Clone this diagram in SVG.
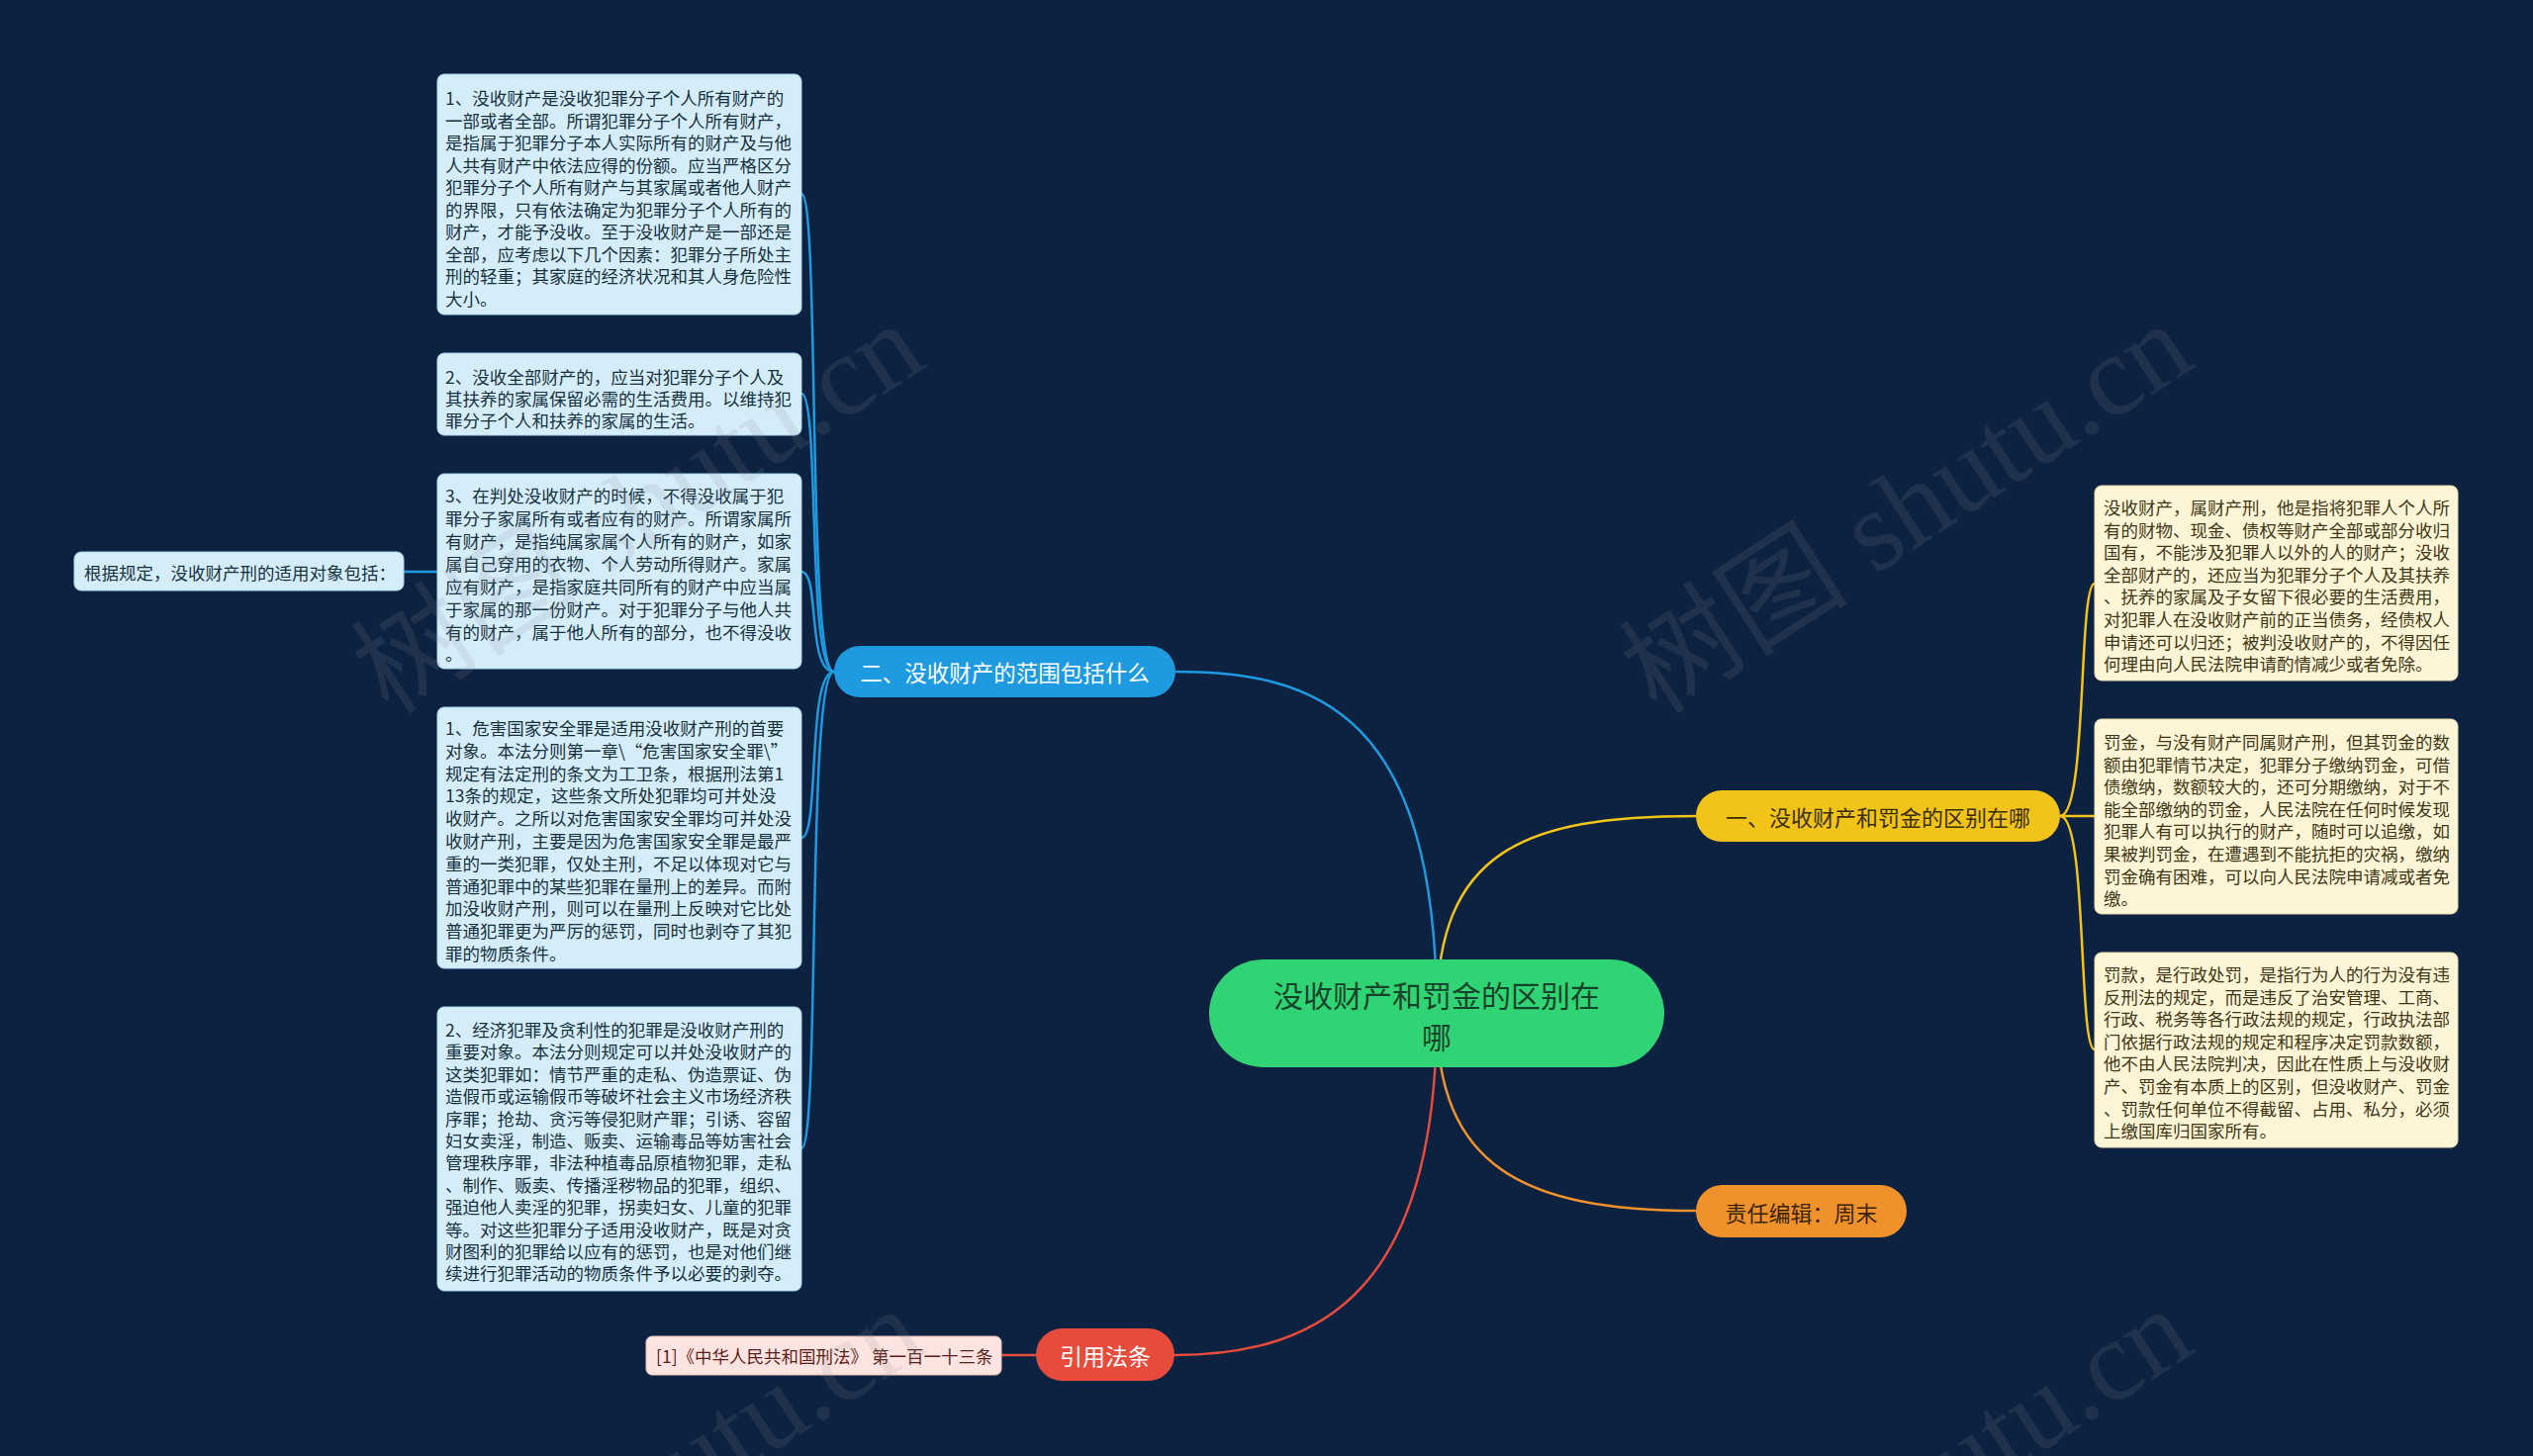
<svg xmlns="http://www.w3.org/2000/svg" width="2560" height="1472" viewBox="0 0 2560 1472">
<style>
text{font-family:"Noto Sans CJK SC","Noto Sans",sans-serif;}
.lb{fill:#d5edf9;stroke:#a9d6ef;stroke-width:1}
.rb{fill:#fdf5d5;stroke:#e8dcaa;stroke-width:1}
.lt{font-size:17.5px;fill:#17323f;dominant-baseline:central}
.rt{font-size:17.5px;fill:#3e3818;dominant-baseline:central}
.c{fill:none;stroke-width:2.5}
.wm{font-size:116px;fill:#8a8f99;opacity:0.15;font-family:"Liberation Serif","Noto Sans CJK SC",serif}
</style>
<rect width="2560" height="1472" fill="#0d2140"/>
<g id="connectors">
<path class="c" stroke="#1e9be0" d="M1452,1025 C1452,720 1330,679 1188,679"/>
<path class="c" stroke="#f2c318" d="M1452,1025 C1452,860 1540,825 1714,825"/>
<path class="c" stroke="#f0922c" d="M1452,1025 C1452,1180 1540,1224 1714,1224"/>
<path class="c" stroke="#e64b3b" d="M1452,1025 C1452,1300 1340,1370 1187,1370"/>
<path class="c" stroke="#1e9be0" d="M843,679 C815,679 829,196 810,196"/>
<path class="c" stroke="#1e9be0" d="M843,679 C815,679 829,398 810,398"/>
<path class="c" stroke="#1e9be0" d="M843,679 C815,679 829,578 810,578"/>
<path class="c" stroke="#1e9be0" d="M843,679 C815,679 829,847 810,847"/>
<path class="c" stroke="#1e9be0" d="M843,679 C815,679 829,1161 810,1161"/>
<path class="c" stroke="#1e9be0" d="M442,578 L408,578"/>
<path class="c" stroke="#f2c318" d="M2082,825 C2110,825 2100,590 2117,590"/>
<path class="c" stroke="#f2c318" d="M2082,825 L2117,825"/>
<path class="c" stroke="#f2c318" d="M2082,825 C2110,825 2100,1061 2117,1061"/>
<path class="c" stroke="#e64b3b" d="M1047,1370 L1012,1370"/>
</g>

<g id="center">
<rect x="1222" y="970" width="460" height="109" rx="54.5" fill="#31d474"/>
<text x="1452" y="1005" font-size="30" fill="#15432a" text-anchor="middle" dominant-baseline="central">没收财产和罚金的区别在</text>
<text x="1452" y="1047" font-size="30" fill="#15432a" text-anchor="middle" dominant-baseline="central">哪</text>
</g>

<g id="branch-blue">
<rect x="843" y="653" width="345" height="52" rx="26" fill="#1e9be0"/>
<text x="1015.5" y="679" font-size="22.5" fill="#ffffff" text-anchor="middle" dominant-baseline="central">二、没收财产的范围包括什么</text>
</g>

<g id="box1">
<rect class="lb" x="442" y="75" width="368" height="243" rx="7"/>
<text class="lt" x="450"><tspan x="450" y="98">1、没收财产是没收犯罪分子个人所有财产的</tspan><tspan x="450" y="120.5">一部或者全部。所谓犯罪分子个人所有财产，</tspan><tspan x="450" y="143">是指属于犯罪分子本人实际所有的财产及与他</tspan><tspan x="450" y="165.5">人共有财产中依法应得的份额。应当严格区分</tspan><tspan x="450" y="188">犯罪分子个人所有财产与其家属或者他人财产</tspan><tspan x="450" y="210.5">的界限，只有依法确定为犯罪分子个人所有的</tspan><tspan x="450" y="233">财产，才能予没收。至于没收财产是一部还是</tspan><tspan x="450" y="255.5">全部，应考虑以下几个因素：犯罪分子所处主</tspan><tspan x="450" y="278">刑的轻重；其家庭的经济状况和其人身危险性</tspan><tspan x="450" y="300.5">大小。</tspan></text>
</g>

<g id="box2">
<rect class="lb" x="442" y="357" width="368" height="83" rx="7"/>
<text class="lt"><tspan x="450" y="380">2、没收全部财产的，应当对犯罪分子个人及</tspan><tspan x="450" y="402">其扶养的家属保留必需的生活费用。以维持犯</tspan><tspan x="450" y="424">罪分子个人和扶养的家属的生活。</tspan></text>
</g>

<g id="box3">
<rect class="lb" x="442" y="479" width="368" height="197" rx="7"/>
<text class="lt"><tspan x="450" y="500">3、在判处没收财产的时候，不得没收属于犯</tspan><tspan x="450" y="523">罪分子家属所有或者应有的财产。所谓家属所</tspan><tspan x="450" y="546">有财产，是指纯属家属个人所有的财产，如家</tspan><tspan x="450" y="569">属自己穿用的衣物、个人劳动所得财产。家属</tspan><tspan x="450" y="592">应有财产，是指家庭共同所有的财产中应当属</tspan><tspan x="450" y="615">于家属的那一份财产。对于犯罪分子与他人共</tspan><tspan x="450" y="638">有的财产，属于他人所有的部分，也不得没收</tspan><tspan x="450" y="660">。</tspan></text>
</g>

<g id="leftroot">
<rect class="lb" x="75" y="558" width="333" height="39" rx="7"/>
<text class="lt" x="85" y="578" font-size="17">根据规定，没收财产刑的适用对象包括：</text>
</g>

<g id="box4">
<rect class="lb" x="442" y="715" width="368" height="264" rx="7"/>
<text class="lt"><tspan x="450" y="735">1、危害国家安全罪是适用没收财产刑的首要</tspan><tspan x="450" y="757.8">对象。本法分则第一章\“危害国家安全罪\”</tspan><tspan x="450" y="780.6">规定有法定刑的条文为工卫条，根据刑法第1</tspan><tspan x="450" y="803.4">13条的规定，这些条文所处犯罪均可并处没</tspan><tspan x="450" y="826.2">收财产。之所以对危害国家安全罪均可并处没</tspan><tspan x="450" y="849">收财产刑，主要是因为危害国家安全罪是最严</tspan><tspan x="450" y="871.8">重的一类犯罪，仅处主刑，不足以体现对它与</tspan><tspan x="450" y="894.6">普通犯罪中的某些犯罪在量刑上的差异。而附</tspan><tspan x="450" y="917.4">加没收财产刑，则可以在量刑上反映对它比处</tspan><tspan x="450" y="940.2">普通犯罪更为严厉的惩罚，同时也剥夺了其犯</tspan><tspan x="450" y="963">罪的物质条件。</tspan></text>
</g>

<g id="box5">
<rect class="lb" x="442" y="1018" width="368" height="287" rx="7"/>
<text class="lt"><tspan x="450" y="1040">2、经济犯罪及贪利性的犯罪是没收财产刑的</tspan><tspan x="450" y="1062.4">重要对象。本法分则规定可以并处没收财产的</tspan><tspan x="450" y="1084.8">这类犯罪如：情节严重的走私、伪造票证、伪</tspan><tspan x="450" y="1107.2">造假币或运输假币等破坏社会主义市场经济秩</tspan><tspan x="450" y="1129.6">序罪；抢劫、贪污等侵犯财产罪；引诱、容留</tspan><tspan x="450" y="1152">妇女卖淫，制造、贩卖、运输毒品等妨害社会</tspan><tspan x="450" y="1174.4">管理秩序罪，非法种植毒品原植物犯罪，走私</tspan><tspan x="450" y="1196.8">、制作、贩卖、传播淫秽物品的犯罪，组织、</tspan><tspan x="450" y="1219.2">强迫他人卖淫的犯罪，拐卖妇女、儿童的犯罪</tspan><tspan x="450" y="1241.6">等。对这些犯罪分子适用没收财产，既是对贪</tspan><tspan x="450" y="1264">财图利的犯罪给以应有的惩罚，也是对他们继</tspan><tspan x="450" y="1286.4">续进行犯罪活动的物质条件予以必要的剥夺。</tspan></text>
</g>

<g id="branch-yellow">
<rect x="1714" y="799" width="368" height="52" rx="26" fill="#f2c318"/>
<text x="1898" y="825" font-size="22" fill="#3a2f05" text-anchor="middle" dominant-baseline="central">一、没收财产和罚金的区别在哪</text>
</g>

<g id="r1">
<rect class="rb" x="2117" y="491" width="367" height="197" rx="7"/>
<text class="rt"><tspan x="2126" y="512">没收财产，属财产刑，他是指将犯罪人个人所</tspan><tspan x="2126" y="534.6">有的财物、现金、债权等财产全部或部分收归</tspan><tspan x="2126" y="557.2">国有，不能涉及犯罪人以外的人的财产；没收</tspan><tspan x="2126" y="579.8">全部财产的，还应当为犯罪分子个人及其扶养</tspan><tspan x="2126" y="602.4">、抚养的家属及子女留下很必要的生活费用，</tspan><tspan x="2126" y="625">对犯罪人在没收财产前的正当债务，经债权人</tspan><tspan x="2126" y="647.6">申请还可以归还；被判没收财产的，不得因任</tspan><tspan x="2126" y="670.2">何理由向人民法院申请酌情减少或者免除。</tspan></text>
</g>

<g id="r2">
<rect class="rb" x="2117" y="727" width="367" height="197" rx="7"/>
<text class="rt"><tspan x="2126" y="749">罚金，与没有财产同属财产刑，但其罚金的数</tspan><tspan x="2126" y="771.6">额由犯罪情节决定，犯罪分子缴纳罚金，可借</tspan><tspan x="2126" y="794.2">债缴纳，数额较大的，还可分期缴纳，对于不</tspan><tspan x="2126" y="816.8">能全部缴纳的罚金，人民法院在任何时候发现</tspan><tspan x="2126" y="839.4">犯罪人有可以执行的财产，随时可以追缴，如</tspan><tspan x="2126" y="862">果被判罚金，在遭遇到不能抗拒的灾祸，缴纳</tspan><tspan x="2126" y="884.6">罚金确有困难，可以向人民法院申请减或者免</tspan><tspan x="2126" y="907.2">缴。</tspan></text>
</g>

<g id="r3">
<rect class="rb" x="2117" y="963" width="367" height="197" rx="7"/>
<text class="rt"><tspan x="2126" y="984">罚款，是行政处罚，是指行为人的行为没有违</tspan><tspan x="2126" y="1006.6">反刑法的规定，而是违反了治安管理、工商、</tspan><tspan x="2126" y="1029.2">行政、税务等各行政法规的规定，行政执法部</tspan><tspan x="2126" y="1051.8">门依据行政法规的规定和程序决定罚款数额，</tspan><tspan x="2126" y="1074.4">他不由人民法院判决，因此在性质上与没收财</tspan><tspan x="2126" y="1097">产、罚金有本质上的区别，但没收财产、罚金</tspan><tspan x="2126" y="1119.6">、罚款任何单位不得截留、占用、私分，必须</tspan><tspan x="2126" y="1142.2">上缴国库归国家所有。</tspan></text>
</g>

<g id="branch-orange">
<rect x="1714" y="1198" width="213" height="53" rx="26.5" fill="#f0922c"/>
<text x="1820.5" y="1224.5" font-size="22" fill="#3a2205" text-anchor="middle" dominant-baseline="central">责任编辑：周末</text>
</g>

<g id="branch-red">
<rect x="1047" y="1343" width="140" height="53" rx="26.5" fill="#e64b3b"/>
<text x="1117" y="1369.5" font-size="23" fill="#ffffff" text-anchor="middle" dominant-baseline="central">引用法条</text>
</g>

<g id="citation">
<rect x="653" y="1351" width="359" height="39" rx="6" fill="#fde4e0" stroke="#f0c2bb" stroke-width="1"/>
<text x="663" y="1370.5" font-size="17.5" fill="#5a1f1c" dominant-baseline="central">[1]《中华人民共和国刑法》 第一百一十三条</text>
</g>

<g id="watermarks">
<text class="wm" transform="translate(645,514) rotate(-33)" text-anchor="middle" dominant-baseline="central">树图 shutu.cn</text>
<text class="wm" transform="translate(1927,514) rotate(-33)" text-anchor="middle" dominant-baseline="central">树图 shutu.cn</text>
<text class="wm" transform="translate(645,1510) rotate(-33)" text-anchor="middle" dominant-baseline="central">树图 shutu.cn</text>
<text class="wm" transform="translate(1927,1510) rotate(-33)" text-anchor="middle" dominant-baseline="central">树图 shutu.cn</text>
</g>
</svg>
